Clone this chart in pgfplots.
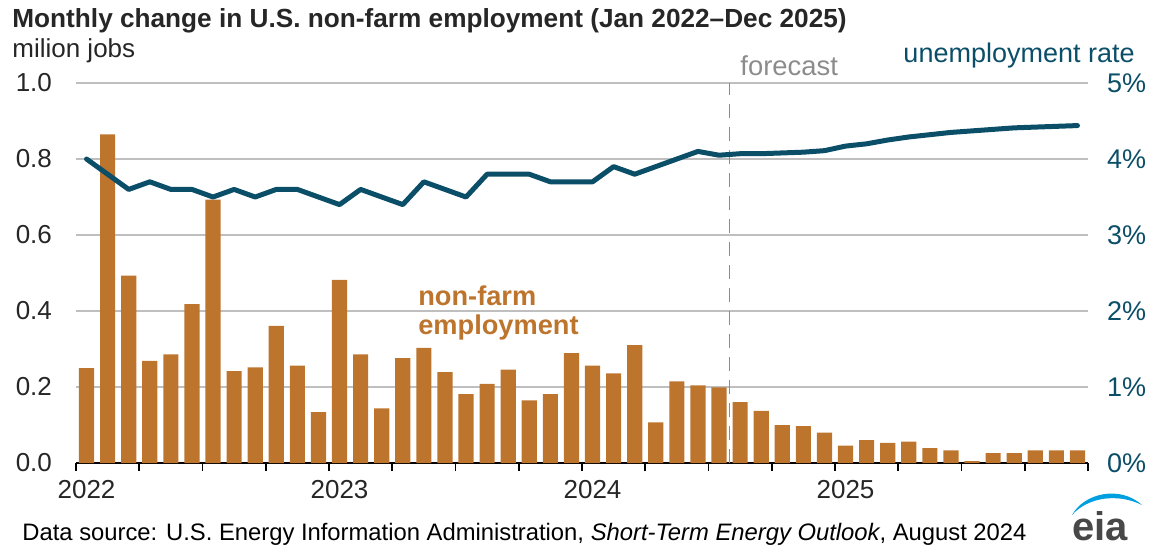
\documentclass[border=0pt]{standalone}
\usepackage{pgfplots}
\pgfplotsset{compat=1.18}
\usepackage{fontspec}
\setmainfont{Liberation Sans}
\definecolor{barc}{RGB}{189,116,45}
\definecolor{linec}{RGB}{11,78,104}
\definecolor{gridc}{RGB}{191,191,191}
\definecolor{txt}{RGB}{38,38,38}
\definecolor{fcst}{RGB}{140,140,140}
\definecolor{eiablue}{RGB}{0,160,224}
\definecolor{eiagray}{RGB}{72,72,72}

\begin{document}
\begin{tikzpicture}
% 1 px of the reference = 0.5pt; axis box from px (76,83) to (1088,463)
\useasboundingbox (-38pt,-45.5pt) rectangle (539.5pt,231.5pt);

\begin{axis}[
    at={(0,0)}, anchor=south west,
    scale only axis, width=506pt, height=190pt,
    xmin=-0.5, xmax=47.5, ymin=0, ymax=1.0,
    axis y line*=left, axis x line*=bottom,
    y axis line style={draw=none},
    x axis line style={black, line width=0.9pt, -},
    xtick={-0.5,2.5,...,47.5}, xticklabels={},
    tick align=outside, major tick length=4pt,
    x tick style={black, line width=0.9pt},
    extra x ticks={0,12,24,36},
    extra x tick labels={2022,2023,2024,2025},
    extra x tick style={major tick length=0pt, grid=none,
        tick label style={font=\fontsize{13}{15}\selectfont, text=txt, yshift=-5pt}},
    ytick={0,0.2,...,1.0},
    y tick style={draw=none},
    ymajorgrids, grid style={gridc, line width=0.8pt},
    yticklabel style={font=\fontsize{13}{15}\selectfont, text=txt, xshift=-4.5pt,
        /pgf/number format/.cd, fixed, fixed zerofill, precision=1},
    /pgf/number format/assume math mode=true,
    ybar, bar width=0.72,
    clip=false,
]
\addplot[draw=none, fill=barc] coordinates {
    (0,0.250) (1,0.865) (2,0.493) (3,0.269) (4,0.286) (5,0.418)
    (6,0.693) (7,0.242) (8,0.252) (9,0.361) (10,0.256) (11,0.134)
    (12,0.482) (13,0.286) (14,0.144) (15,0.276) (16,0.303) (17,0.239)
    (18,0.181) (19,0.208) (20,0.246) (21,0.165) (22,0.181) (23,0.289)
    (24,0.256) (25,0.236) (26,0.310) (27,0.107) (28,0.215) (29,0.204)
    (30,0.199) (31,0.160) (32,0.137) (33,0.100) (34,0.097) (35,0.080)
    (36,0.046) (37,0.060) (38,0.053) (39,0.056) (40,0.039) (41,0.033)
    (42,0.005) (43,0.026) (44,0.026) (45,0.033) (46,0.033) (47,0.033)
};
\draw[fcst, line width=0.9pt, dash pattern=on 7pt off 4.5pt]
    (axis cs:30.5,0) -- (axis cs:30.5,1.0);
\node[anchor=base west, align=left, inner sep=0, text=barc,
      font=\bfseries\fontsize{13.6}{14.5}\selectfont]
    at (axis cs:15.72,0.339) {non-farm\\employment};
\end{axis}

\begin{axis}[
    at={(0,0)}, anchor=south west,
    scale only axis, width=506pt, height=190pt,
    xmin=-0.5, xmax=47.5, ymin=0, ymax=5,
    axis y line*=right, hide x axis,
    y axis line style={draw=none},
    ytick={0,1,...,5}, y tick style={draw=none},
    yticklabel={\pgfmathprintnumber{\tick}\%},
    yticklabel style={font=\fontsize{13.5}{15}\selectfont, text=linec, xshift=6pt},
    /pgf/number format/assume math mode=true,
]
\addplot[linec, line width=2.5pt, line join=round, line cap=round] coordinates {
    (0,4.0) (1,3.8) (2,3.6) (3,3.7) (4,3.6) (5,3.6)
    (6,3.5) (7,3.6) (8,3.5) (9,3.6) (10,3.6) (11,3.5)
    (12,3.4) (13,3.6) (14,3.5) (15,3.4) (16,3.7) (17,3.6)
    (18,3.5) (19,3.8) (20,3.8) (21,3.8) (22,3.7) (23,3.7)
    (24,3.7) (25,3.9) (26,3.8) (27,3.9) (28,4.0) (29,4.1)
    (30,4.05) (31,4.07) (32,4.07) (33,4.08) (34,4.09) (35,4.11)
    (36,4.17) (37,4.2) (38,4.25) (39,4.29) (40,4.32) (41,4.35)
    (42,4.37) (43,4.39) (44,4.41) (45,4.42) (46,4.43) (47,4.44)
};
\end{axis}

% titles and notes (positions converted from reference pixels)
\node[anchor=base west, inner sep=0, text=txt, font=\bfseries\fontsize{13.1}{15}\selectfont]
    at (-32pt,218pt) {Monthly change in U.S. non-farm employment (Jan 2022--Dec 2025)};
\node[anchor=base west, inner sep=0, text=txt, font=\fontsize{13}{15}\selectfont]
    at (-32pt,203pt) {milion jobs};
\node[anchor=base east, inner sep=0, text=linec, font=\fontsize{13.5}{15}\selectfont]
    at (529.5pt,200.5pt) {unemployment rate};
\node[anchor=base west, inner sep=0, text=fcst, font=\fontsize{13.7}{15}\selectfont]
    at (332pt,194pt) {forecast};
\node[anchor=base west, inner sep=0, text=black, font=\fontsize{11.9}{14}\selectfont]
    at (-27pt,-38.5pt) {Data source: U.S. Energy Information Administration, \textit{Short-Term Energy Outlook}, August 2024};
% eia logo
\node[anchor=base, inner sep=0, text=eiagray, font=\bfseries\fontsize{20}{22}\selectfont]
    at (512pt,-38.5pt) {eia};
\fill[eiablue] (498pt,-26pt) .. controls (504pt,-15pt) and (522pt,-11pt) .. (533pt,-21pt)
    .. controls (521pt,-15pt) and (506pt,-17pt) .. cycle;
\end{tikzpicture}
\end{document}
